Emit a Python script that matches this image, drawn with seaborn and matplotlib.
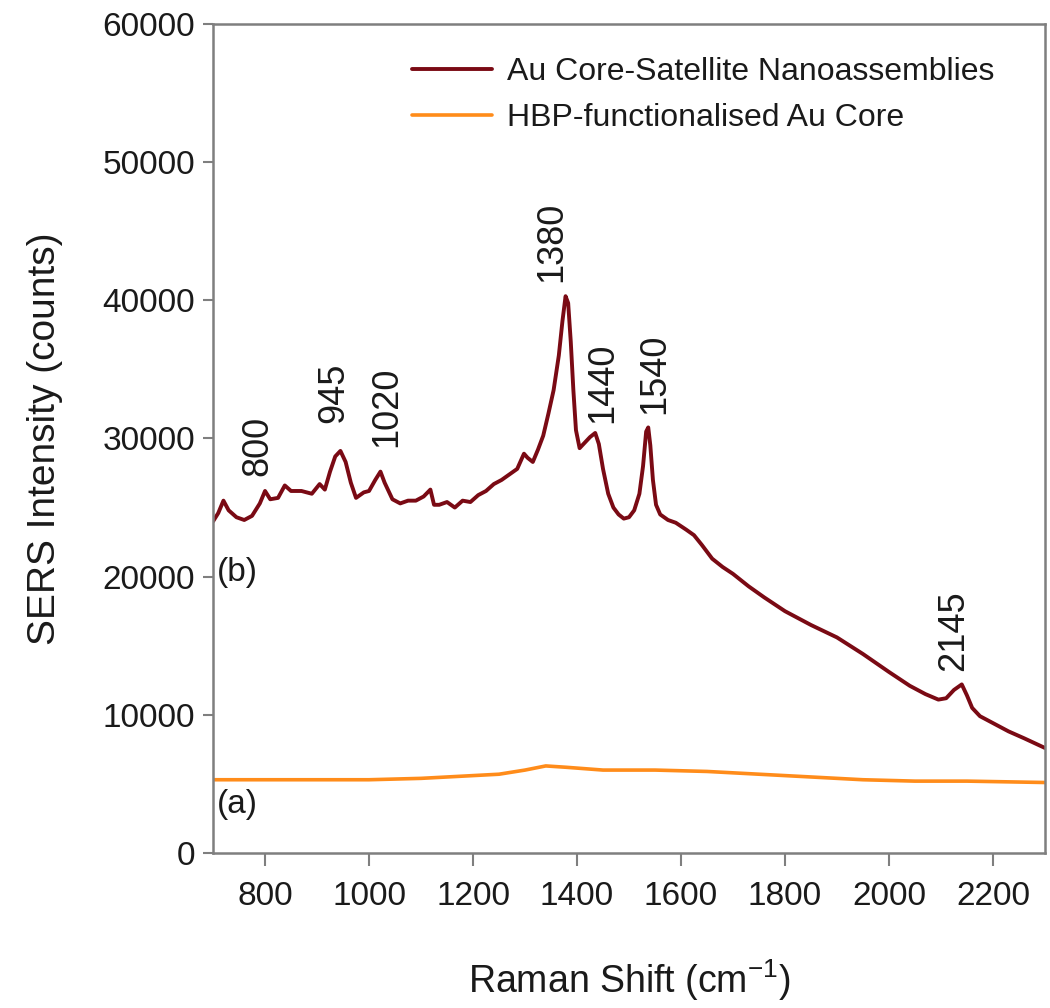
import matplotlib
matplotlib.use("Agg")
import matplotlib.pyplot as plt
import seaborn as sns
import pandas as pd

sns.set_theme(style="white")
plt.rcParams['font.family'] = ['Liberation Sans', 'DejaVu Sans']

# Red curve (b): Au Core-Satellite Nanoassemblies
shift_b = [700, 710, 720, 730, 745, 760, 775, 790, 800, 810, 825, 838, 850, 870, 890, 905, 915,
           925, 935, 945, 955, 965, 975, 990, 1000, 1012, 1022, 1030, 1045, 1060, 1075, 1090,
           1105, 1118, 1125, 1135, 1150, 1165, 1180, 1195, 1210, 1225, 1240, 1255, 1270, 1285,
           1298, 1305, 1315, 1325, 1335, 1345, 1355, 1365, 1372, 1378, 1383, 1388, 1393, 1398,
           1405, 1415, 1425, 1435, 1442, 1450, 1460, 1470, 1480, 1490, 1500, 1510, 1520, 1527,
           1533, 1537, 1541, 1546, 1552, 1560, 1575, 1590, 1610, 1625, 1640, 1660, 1680, 1700,
           1730, 1760, 1800, 1850, 1900, 1950, 2000, 2040, 2070, 2095, 2110, 2125, 2140, 2150,
           2160, 2175, 2200, 2230, 2260, 2300]
int_b = [24000, 24600, 25500, 24800, 24300, 24100, 24400, 25300, 26200, 25600, 25700, 26600, 26200,
         26200, 26000, 26700, 26300, 27600, 28700, 29100, 28300, 26800, 25700, 26100, 26200, 27000,
         27600, 26800, 25600, 25300, 25500, 25500, 25800, 26300, 25200, 25200, 25400, 25000, 25500,
         25400, 25900, 26200, 26700, 27000, 27400, 27800, 28900, 28600, 28300, 29200, 30200, 31800,
         33500, 36000, 38500, 40300, 39800, 37000, 33500, 30600, 29300, 29700, 30100, 30400, 29600,
         27800, 26000, 25000, 24500, 24200, 24300, 24800, 26000, 28000, 30500, 30800, 29500, 27000,
         25200, 24500, 24100, 23900, 23400, 23000, 22300, 21300, 20700, 20200, 19300, 18500, 17500,
         16500, 15600, 14400, 13100, 12100, 11500, 11100, 11200, 11800, 12200, 11400, 10500, 9900,
         9400, 8800, 8300, 7600]

# Orange curve (a): HBP-functionalised Au Core
shift_a = [700, 800, 900, 1000, 1100, 1200, 1250, 1300, 1340, 1380, 1450, 1550, 1650, 1750, 1850,
           1950, 2050, 2150, 2300]
int_a = [5300, 5300, 5300, 5300, 5400, 5600, 5700, 6000, 6300, 6200, 6000, 6000, 5900, 5700, 5500,
         5300, 5200, 5200, 5100]

label_b = "Au Core-Satellite Nanoassemblies"
label_a = "HBP-functionalised Au Core"

peak_labels = ["800", "945", "1020", "1380", "1440", "1540", "2145"]
peak_x = [786, 933, 1035, 1351, 1450, 1550, 2124]
peak_y = [27300, 31100, 29400, 41300, 31100, 31800, 13200]

df_b = pd.DataFrame({"shift": shift_b, "intensity": int_b})
df_a = pd.DataFrame({"shift": shift_a, "intensity": int_a})

fig = plt.figure(figsize=(10.5, 10.08), dpi=100)
ax = fig.add_axes([0.2029, 0.1538, 0.7923, 0.8224])

sns.lineplot(data=df_b, x="shift", y="intensity", ax=ax, color="#7a0a14", lw=2.8, label=label_b)
sns.lineplot(data=df_a, x="shift", y="intensity", ax=ax, color="#ff8c1a", lw=2.6, label=label_a)

ax.set_xlim(700, 2300)
ax.set_ylim(0, 60000)
ax.set_xticks([800, 1000, 1200, 1400, 1600, 1800, 2000, 2200])
ax.set_yticks([0, 10000, 20000, 30000, 40000, 50000, 60000])
ax.tick_params(axis="both", which="major", labelsize=24, color="#7f7f7f", labelcolor="#1a1a1a",
               direction="out")
ax.tick_params(axis="x", length=9, width=1.5, pad=11, bottom=True)
ax.tick_params(axis="y", length=7, width=1.5, pad=6, left=True)
for s in ax.spines.values():
    s.set_color("#7f7f7f")
    s.set_linewidth(1.8)

ax.set_xlabel("Raman Shift (cm$^{\\mathregular{-1}}$)", fontsize=27, labelpad=33, color="#1a1a1a")
ax.set_ylabel("SERS Intensity (counts)", fontsize=28, labelpad=28, color="#1a1a1a")

for t, x, y in zip(peak_labels, peak_x, peak_y):
    ax.text(x, y, t, rotation=90, ha="center", va="bottom", fontsize=26, color="#1a1a1a")

ax.text(708, 20300, "(b)", fontsize=24, color="#1a1a1a", va="center")
ax.text(708, 3500, "(a)", fontsize=24, color="#1a1a1a", va="center")

leg = ax.legend(loc="upper left", bbox_to_anchor=(0.205, 0.995), frameon=False, fontsize=23,
                handlelength=2.5, handletextpad=0.45, labelspacing=0.5)
for t in leg.get_texts():
    t.set_color("#1a1a1a")

fig.savefig("out.png", dpi=100, facecolor="white")
